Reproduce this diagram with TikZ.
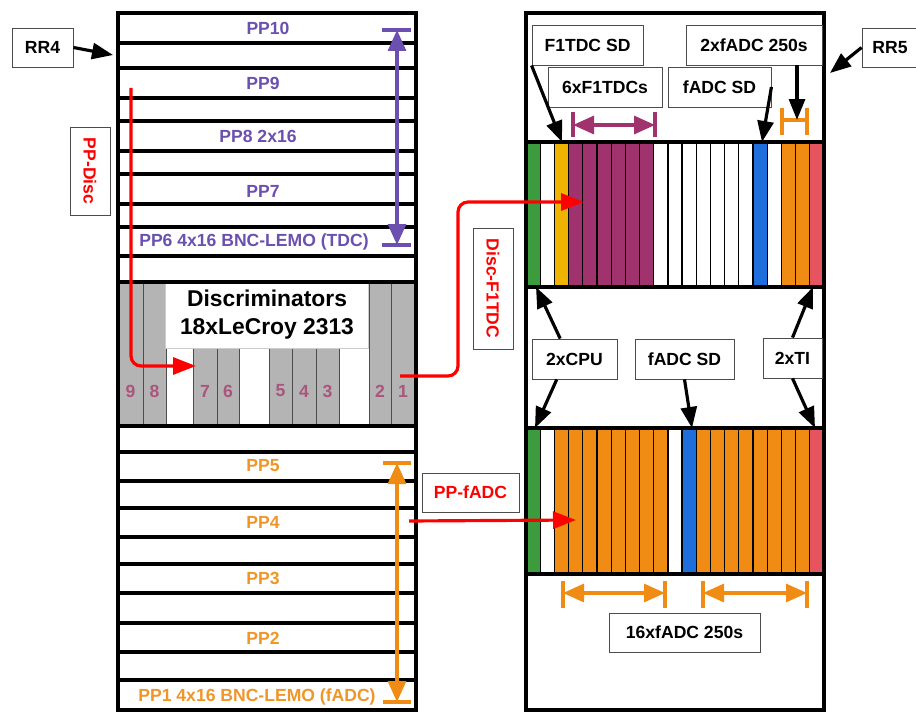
\documentclass[tikz,border=0pt]{standalone}
\usepackage{fontspec}
\setmainfont{Liberation Sans}
\usetikzlibrary{arrows.meta}
\definecolor{ppviolet}{RGB}{107,80,176}
\definecolor{pporange}{RGB}{240,150,40}
\definecolor{sigred}{RGB}{255,0,0}
\definecolor{cpugreen}{RGB}{60,155,60}
\definecolor{sdyellow}{RGB}{240,180,0}
\definecolor{tdcmag}{RGB}{160,50,110}
\definecolor{fsdblue}{RGB}{30,110,220}
\definecolor{adcorange}{RGB}{240,140,20}
\definecolor{tired}{RGB}{230,85,95}
\definecolor{numpink}{RGB}{170,85,125}
\definecolor{discgray}{RGB}{180,180,180}

\begin{document}
\begin{tikzpicture}[x=0.02cm,y=-0.02cm,font=\fontsize{10}{12}\selectfont\bfseries,
  rackline/.style={line width=2pt},
  band/.style={draw,line width=2pt,fill=white},
  slot/.style={draw=black,line width=0.7pt},
  dslot/.style={draw=gray!60!black,line width=0.5pt,fill=discgray},
  slotnum/.style={text=numpink},
  lbl/.style={draw=gray!60!black,line width=0.5pt,fill=white,inner sep=0pt,minimum height=0.8cm},
  redlbl/.style={lbl,text=sigred},
  tdclbl/.style={text=ppviolet},
  adclbl/.style={text=pporange},
  sig/.style={draw=sigred,line width=1.8pt,-{Triangle[length=0.46cm,width=0.34cm]}},
  ptr/.style={line width=1.8pt,-{Triangle[length=0.42cm,width=0.32cm]}},
  rangearr/.style={line width=1.8pt,{Triangle[length=0.42cm,width=0.36cm]}-{Triangle[length=0.42cm,width=0.36cm]}},
  barline/.style={line width=1.8pt}]
\useasboundingbox (0,0) rectangle (916,713);

% RR4: patch panels
\foreach \ya/\yb in {13/43,43/68,68/98,98/121,121/151,151/174,174/204,204/227,227/256,256/282,
  426/452,452/481,481/508,508/537,537/564,564/593,593/623,623/652,652/680,680/710}
  \draw[band] (118,\ya) rectangle (416,\yb);

% discriminator crate
\fill[white] (118,282) rectangle (416,426);
\foreach \xa/\xb/\n in {118/143/9,143/166/8,193/217/7,217/239/6,269/292/5,292/316/4,316/339/3,369/391/2,391/415/1}{
  \draw[dslot] (\xa,282) rectangle (\xb,426);
  \node[slotnum] (disc\n) at ({(\xa+\xb)/2},391) {\n};
}
\node[fill=white,draw=gray!40,minimum width=4.06cm,minimum height=1.32cm,align=center,
  font=\fontsize{13}{16}\selectfont\bfseries] (disc) at (267,315) {Discriminators\\18xLeCroy 2313};
\draw[rackline] (118,282) rectangle (416,426);

\node[tdclbl] (pp10) at (268,28) {PP10};
\node[tdclbl] (pp9) at (263,83) {PP9};
\node[tdclbl] (pp8) at (258,136) {PP8 2x16};
\node[tdclbl] (pp7) at (263,191) {PP7};
\node[tdclbl] (pp6) at (254,242) {PP6 4x16 BNC-LEMO (TDC)};
\node[adclbl] (pp5) at (263,466) {PP5};
\node[adclbl] (pp4) at (263,522) {PP4};
\node[adclbl] (pp3) at (263,578) {PP3};
\node[adclbl] (pp2) at (263,638) {PP2};
\node[adclbl] (pp1) at (257,697) {PP1 4x16 BNC-LEMO (fADC)};

\draw[barline,ppviolet] (382,30) -- (411,30) (382,245) -- (411,245);
\draw[rangearr,ppviolet] (397,30) -- (397,245);
\draw[barline,adcorange] (383,463) -- (411,463) (383,702) -- (411,702);
\draw[rangearr,adcorange] (397,463) -- (397,702);

\node[lbl,minimum width=1.22cm,minimum height=0.78cm] (rr4) at (42.5,47.5) {RR4};
\coordinate (rr4tip) at (113,55);
\draw[ptr] (rr4.east) -- (rr4tip);

% RR5: VXS crates
\draw[rackline,fill=white] (526,13) rectangle (824,710);
\foreach \c [count=\i from 0] in {cpugreen,white,sdyellow,tdcmag,tdcmag,tdcmag,tdcmag,tdcmag,tdcmag,
  white,white,white,white,white,white,white,fsdblue,white,adcorange,adcorange,tired}
  \draw[slot,fill=\c] ({526+14.19*\i},142) rectangle ++(14.19,145);
\draw[rackline] (526,142) rectangle (824,287);
\foreach \c [count=\i from 0] in {cpugreen,white,adcorange,adcorange,adcorange,adcorange,adcorange,adcorange,adcorange,adcorange,
  white,fsdblue,adcorange,adcorange,adcorange,adcorange,adcorange,adcorange,adcorange,adcorange,tired}
  \draw[slot,fill=\c] ({526+14.19*\i},428) rectangle ++(14.19,146);
\draw[rackline] (526,428) rectangle (824,574);

\node[lbl,minimum width=2.22cm] (f1sd) at (587.5,45) {F1TDC SD};
\node[lbl,minimum width=2.28cm] (tdcs) at (605,87) {6xF1TDCs};
\node[lbl,minimum width=2.72cm] (adc2) at (754,45) {2xfADC 250s};
\node[lbl,minimum width=2.06cm] (fsdtop) at (719.5,87) {fADC SD};
\node[lbl,minimum width=1.12cm,minimum height=0.78cm] (rr5) at (890,47.5) {RR5};
\coordinate (rr5tip) at (830,73);
\draw[ptr] (rr5.west) -- (rr5tip);

\coordinate (sdtop) at (562,142);
\draw[ptr] (f1sd.south west) -- (sdtop);
\coordinate (fsdtoptip) at (762,142);
\draw[ptr] (fsdtop.east) -- (fsdtoptip);

\draw[barline,tdcmag] (573,112) -- (573,137) (655,112) -- (655,137);
\draw[rangearr,tdcmag] (573,125) -- (655,125);
\draw[barline,adcorange] (782,108) -- (782,135) (807,108) -- (807,135) (782,120) -- (807,120);
\coordinate (adc2tip) at (797,120);
\draw[ptr] (adc2.south -| adc2tip) -- (adc2tip);

\node[lbl,minimum width=1.7cm] (cpu) at (574.5,359) {2xCPU};
\node[lbl,minimum width=1.98cm] (fsdmid) at (684.5,359) {fADC SD};
\node[lbl,minimum width=1.18cm] (ti) at (792.5,358) {2xTI};
\coordinate (cpuup) at (536,287);
\coordinate (cpudn) at (535,428);
\draw[ptr] (cpu.125) -- (cpuup);
\draw[ptr] (cpu.229) -- (cpudn);
\coordinate (fsdmidtip) at (692,428);
\draw[ptr] (fsdmid.south) -- (fsdmidtip);
\coordinate (tiup) at (813,287);
\coordinate (tidn) at (815,428);
\draw[ptr] (ti.north) -- (tiup);
\draw[ptr] (ti.south) -- (tidn);

\draw[barline,adcorange] (563,581) -- (563,608) (665,581) -- (665,608) (703,581) -- (703,608) (807,581) -- (807,608);
\draw[rangearr,adcorange] (563,593) -- (665,593);
\draw[rangearr,adcorange] (703,593) -- (807,593);
\node[lbl,minimum width=3.02cm,minimum height=0.78cm] (adc16) at (684.5,632.5) {16xfADC 250s};

% signal paths
\node[redlbl,rotate=-90,minimum width=1.76cm] (ppdisc) at (90,171) {PP-Disc};
\coordinate (pp9src) at (131,88);
\coordinate (disc7in) at (196,366);
\draw[sig,rounded corners=0.2cm] (pp9src) |- (disc7in);

\node[redlbl,rotate=-90,minimum width=2.42cm] (discf1) at (493,288.5) {Disc-F1TDC};
\coordinate (disc1out) at (400,376);
\coordinate (tdcin) at (584,202);
\draw[sig,rounded corners=0.2cm] (disc1out) -- ++(58,0) |- (tdcin);

\node[redlbl,minimum width=1.94cm,minimum height=0.78cm] (ppfadc) at (470.5,492.5) {PP-fADC};
\coordinate (pp4src) at (409,521);
\coordinate (fadcin) at (576,520);
\draw[sig] (pp4src) -- (fadcin);
\end{tikzpicture}
\end{document}
